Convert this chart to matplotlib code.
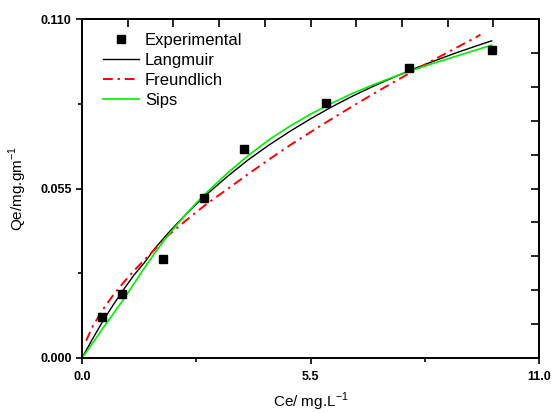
import matplotlib
matplotlib.use("Agg")
import matplotlib.pyplot as plt
import numpy as np

plt.rcParams['font.family'] = ['Liberation Sans', 'DejaVu Sans']

# experimental points
ce_exp = [0.49, 0.97, 1.95, 2.94, 3.90, 5.88, 7.87, 9.86]
qe_exp = [0.0133, 0.0209, 0.0322, 0.0519, 0.0678, 0.0826, 0.0942, 0.1000]

# fitted curves
ce_lang = [0.0, 0.25, 0.5, 0.75, 1.0, 1.25, 1.5, 1.75, 2.0, 2.25, 2.5, 2.75, 3.0,
           3.5, 4.0, 4.5, 5.0, 5.5, 6.0, 6.5, 7.0, 7.5, 8.0, 8.5, 9.0, 9.5, 9.86]
qe_lang = [0.0, 0.0061, 0.0119, 0.0172, 0.0222, 0.0269, 0.0309, 0.0355, 0.0394,
           0.0431, 0.0466, 0.0499, 0.0531, 0.0589, 0.0643, 0.0691, 0.0735, 0.0776,
           0.0814, 0.0849, 0.0881, 0.0911, 0.0939, 0.0965, 0.0990, 0.1013, 0.1029]

ce_freu = [0.1, 0.25, 0.5, 0.75, 1.0, 1.25, 1.5, 1.75, 2.0, 2.25, 2.5, 2.75, 3.0,
           3.5, 4.0, 4.5, 5.0, 5.5, 6.0, 6.5, 7.0, 7.5, 8.0, 8.5, 9.0, 9.5, 9.59]
qe_freu = [0.0056, 0.0101, 0.0157, 0.0204, 0.0245, 0.0283, 0.0318, 0.0352, 0.0389,
           0.0418, 0.0446, 0.0473, 0.0500, 0.0548, 0.0597, 0.0644, 0.0690, 0.0733,
           0.0775, 0.0816, 0.0856, 0.0895, 0.0933, 0.0970, 0.1006, 0.1042, 0.1049]

ce_sips = [0.0, 0.25, 0.5, 0.75, 1.0, 1.25, 1.5, 1.75, 2.0, 2.25, 2.5, 2.75, 3.0,
           3.5, 4.0, 4.5, 5.0, 5.5, 6.0, 6.5, 7.0, 7.5, 8.0, 8.5, 9.0, 9.5, 9.86]
qe_sips = [0.0, 0.0047, 0.0096, 0.0143, 0.0190, 0.0241, 0.0292, 0.0340, 0.0386,
           0.0427, 0.0466, 0.0503, 0.0537, 0.0600, 0.0657, 0.0708, 0.0752, 0.0791,
           0.0826, 0.0858, 0.0886, 0.0912, 0.0936, 0.0958, 0.0979, 0.1000, 0.1015]

xticks = [0.0, 5.5, 11.0]
yticks = [0.000, 0.055, 0.110]

fig = plt.figure(figsize=(5.52, 4.13), dpi=100)
ax = fig.add_axes([82 / 552, 1 - 358 / 413, 457 / 552, 339 / 413])

ax.plot(ce_exp, qe_exp, 's', color='black', markersize=5.5, label='Experimental', zorder=4)
ax.plot(ce_lang, qe_lang, '-', color='black', lw=1.0, label='Langmuir')
ax.plot(ce_freu, qe_freu, color='red', lw=1.4, dashes=(5, 2.5, 1.2, 2.5), label='Freundlich')
ax.plot(ce_sips, qe_sips, '-', color='#00ee00', lw=1.2, label='Sips')

ax.set_xlim(0, 11)
ax.set_ylim(0, 0.110)
ax.set_xticks(xticks)
ax.set_xticklabels(['0.0', '5.5', '11.0'])
ax.set_yticks(yticks)
ax.set_yticklabels(['0.000', '0.055', '0.110'])
ax.set_xticks([2.75, 8.25], minor=True)
ax.set_yticks([0.0275, 0.0825], minor=True)
ax.tick_params(which='major', direction='out', length=4, width=1.2, labelsize=9)
ax.tick_params(axis='x', which='major', pad=5)
ax.tick_params(which='minor', direction='out', length=3, width=1.2)
for lbl in ax.get_xticklabels() + ax.get_yticklabels():
    lbl.set_fontweight('bold')

for s in ax.spines.values():
    s.set_linewidth(1.4)

# inward ticks on top and right
top = ax.secondary_xaxis('top')
top.set_xticks([1.1 * i for i in range(1, 10)])
top.tick_params(direction='in', length=6, width=1.2, labeltop=False)
top.spines['top'].set_linewidth(1.4)
right = ax.secondary_yaxis('right')
right.set_yticks([0.011 * i for i in range(1, 10)])
right.tick_params(direction='in', length=6, width=1.2, labelright=False)
right.spines['right'].set_linewidth(1.4)

ax.set_xlabel('Ce/ mg.L$^{\\mathregular{-1}}$', fontsize=11, labelpad=6)
ax.set_ylabel('Qe/mg.gm$^{\\mathregular{-1}}$', fontsize=11, labelpad=8)

ax.legend(loc='upper left', bbox_to_anchor=(0.045, 0.958), frameon=False, fontsize=12,
          borderpad=0, handlelength=2.2, handletextpad=0.35, labelspacing=0.3,
          borderaxespad=0)

fig.savefig('out.png', dpi=100)
